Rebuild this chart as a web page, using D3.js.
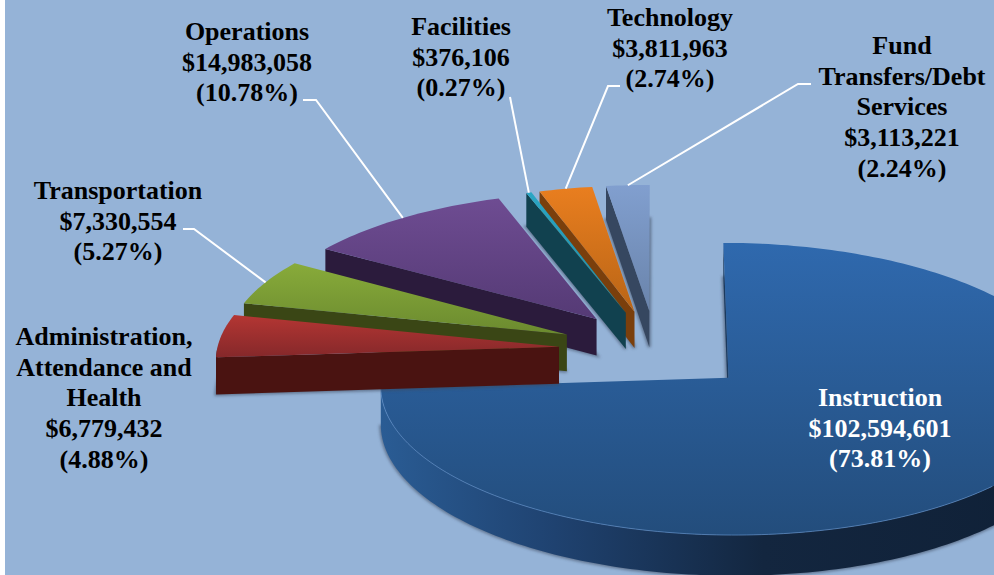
<!DOCTYPE html>
<html>
<head>
<meta charset="utf-8">
<script src="https://cdn.jsdelivr.net/npm/d3@7"></script>
<style>
  html, body { margin: 0; padding: 0; background: #fff; }
  svg { display: block; }
  text { font-family: "Liberation Serif", serif; font-weight: bold; font-size: 26px; }
</style>
</head>
<body>
<svg id="chart" width="994" height="575"></svg>
<script>
const categories = ["Instruction", "Administration, Attendance and Health", "Transportation",
                    "Operations", "Facilities", "Technology", "Fund Transfers/Debt Services"];
const amounts = [102594601, 6779432, 7330554, 14983058, 376106, 3811963, 3113221];
const nameLines = [["Instruction"], ["Administration,", "Attendance and", "Health"], ["Transportation"],
                   ["Operations"], ["Facilities"], ["Technology"], ["Fund", "Transfers/Debt", "Services"]];

// top colours (two gradient stops) and wall colour for each slice
const topFrom = ["#2f69ae", "#b43633", "#88ab3a", "#6e4c92", "#2ba6c4", "#e97e1f", "#819fcf"];
const topTo = ["#234d7c", "#85282a", "#6b8a2f", "#553a75", "#1f8aa5", "#b96516", "#6a84ab"];
const wallFill = ["#1b3a5e", "#4a1311", "#3a4615", "#2b1b3c", "#11414f", "#7a3f0c", "#364760"];

// where the label blocks sit: centre x, first baseline, and the leader's start and knee
const labelLayout = [
  { x: 880, y: 406, fill: "#fff" },
  { x: 104, y: 345, fill: "#000" },
  { x: 118, y: 199, fill: "#000", leader: [[183, 229], [194, 229]] },
  { x: 247, y: 40, fill: "#000", leader: [[303, 100], [316, 100]] },
  { x: 461, y: 35, fill: "#000", leader: [[510, 97]] },
  { x: 670, y: 26, fill: "#000", leader: [[620, 86], [608, 86]] },
  { x: 902, y: 54, fill: "#000", leader: [[811, 84], [798, 84]] }
];

const width = 994, height = 575;
const lineHeight = 30.7;
const explode = 0.285;   // slice offset as a share of the radius
const tilt = 0.0757;     // perspective strength
const depth = 37;

const svg = d3.select("#chart");
const defs = svg.append("defs");

svg.append("rect")
  .attr("x", 5).attr("y", 0)
  .attr("width", width - 5).attr("height", height)
  .attr("fill", "#95b3d7");

defs.append("filter").attr("id", "soft")
  .attr("x", "-10%").attr("y", "-10%").attr("width", "120%").attr("height", "120%")
  .append("feGaussianBlur").attr("stdDeviation", 1.8);

const x = d3.scaleLinear().domain([-1, 1]).range([656 - 342, 656 + 342]);
const y = d3.scaleLinear().domain([-1, 1]).range([350 + 141, 350 - 141]);

// pie plane -> screen, far side is squeezed a little
function project(a, b, drop) {
  const w = 1 + tilt * b;
  return [x(a / w), y(b / w) + (drop || 0) / w];
}

const pie = d3.pie().sort(null).startAngle(0).endAngle(2 * Math.PI);
const slices = pie(amounts);
const total = d3.sum(amounts);

function offsetOf(d) {
  const mid = (d.startAngle + d.endAngle) / 2;
  return [explode * Math.sin(mid), explode * Math.cos(mid)];
}
function rimPoint(d, t, drop) {
  const o = offsetOf(d);
  return project(o[0] + Math.sin(t), o[1] + Math.cos(t), drop);
}
function apex(d, drop) {
  const o = offsetOf(d);
  return project(o[0], o[1], drop);
}
function arcAngles(a0, a1) {
  const n = Math.max(2, Math.ceil((a1 - a0) / 0.02));
  return d3.range(n + 1).map(i => a0 + (a1 - a0) * i / n);
}

const line = d3.line();
const closed = pts => line(pts) + "Z";

function sector(d, drop) {
  return [apex(d, drop)].concat(arcAngles(d.startAngle, d.endAngle).map(t => rimPoint(d, t, drop)));
}

const plot = svg.append("g");

// blue goes first, then the exploded slices from back (right) to front (left)
const drawOrder = [0, 6, 5, 4, 3, 2, 1];

drawOrder.forEach(i => {
  const d = slices[i];
  const g = plot.append("g").attr("class", "slice");

  const topId = "top" + i;
  const grad = defs.append("linearGradient").attr("id", topId)
    .attr("x1", 0).attr("y1", 0).attr("x2", 0).attr("y2", 1);
  grad.append("stop").attr("offset", 0).attr("stop-color", topFrom[i]);
  grad.append("stop").attr("offset", 1).attr("stop-color", topTo[i]);

  // soft shadow round the bottom face
  g.append("path")
    .attr("d", closed(sector(d, depth)))
    .attr("fill", "#3c4a5e").attr("stroke", "#3c4a5e").attr("stroke-width", 3)
    .attr("opacity", 0.6)
    .attr("filter", "url(#soft)");

  // wall along the first radial edge
  const rimA = rimPoint(d, d.startAngle, 0), rimB = rimPoint(d, d.startAngle, depth);
  g.append("path")
    .attr("d", closed([apex(d, 0), rimA, rimB, apex(d, depth)]))
    .attr("fill", wallFill[i]);

  // wall along the outer rim, only the part that faces us
  const a0 = Math.max(d.startAngle, Math.PI / 2), a1 = Math.min(d.endAngle, 3 * Math.PI / 2);
  if (a1 > a0) {
    const angles = arcAngles(a0, a1);
    const upper = angles.map(t => rimPoint(d, t, 0));
    const lower = angles.map(t => rimPoint(d, t, depth)).reverse();
    let wall = wallFill[i];
    if (i === 0) {
      const rimGrad = defs.append("linearGradient").attr("id", "rimGrad")
        .attr("x1", 1).attr("y1", 0).attr("x2", 0).attr("y2", 0);
      rimGrad.append("stop").attr("offset", 0).attr("stop-color", "#0f2036");
      rimGrad.append("stop").attr("offset", 0.45).attr("stop-color", "#13263f");
      rimGrad.append("stop").attr("offset", 0.75).attr("stop-color", "#1f4270");
      rimGrad.append("stop").attr("offset", 1).attr("stop-color", "#2a5c94");
      wall = "url(#rimGrad)";
    }
    g.append("path").attr("d", closed(upper.concat(lower))).attr("fill", wall);
  }

  // top face
  g.append("path")
    .attr("d", closed(sector(d, 0)))
    .attr("fill", "url(#" + topId + ")");

  // thin light edge on the front of the big slice
  if (i === 0) {
    g.append("path")
      .attr("d", line(arcAngles(Math.PI * 0.75, d.endAngle).map(t => rimPoint(d, t, 0))))
      .attr("fill", "none").attr("stroke", "#5f8fc8").attr("stroke-width", 1).attr("opacity", 0.7);
  }
});

// leader lines run from the label to the rim at the middle of the slice
const leaderGroup = svg.append("g");
slices.forEach((d, i) => {
  const lay = labelLayout[i];
  if (!lay.leader) return;
  const mid = (d.startAngle + d.endAngle) / 2;
  leaderGroup.append("path")
    .attr("d", line(lay.leader.concat([rimPoint(d, mid, 0)])))
    .attr("fill", "none").attr("stroke", "#fff").attr("stroke-width", 2);
});

const fmtMoney = d3.format("$,");
const fmtShare = d3.format(".2%");

slices.forEach((d, i) => {
  const lay = labelLayout[i];
  const lines = nameLines[i].concat([fmtMoney(d.data), "(" + fmtShare(d.data / total) + ")"]);
  const t = svg.append("text")
    .attr("text-anchor", "middle")
    .attr("fill", lay.fill);
  lines.forEach((s, k) => {
    t.append("tspan")
      .attr("x", lay.x)
      .attr("y", lay.y + k * lineHeight)
      .text(s);
  });
});
</script>
</body>
</html>
